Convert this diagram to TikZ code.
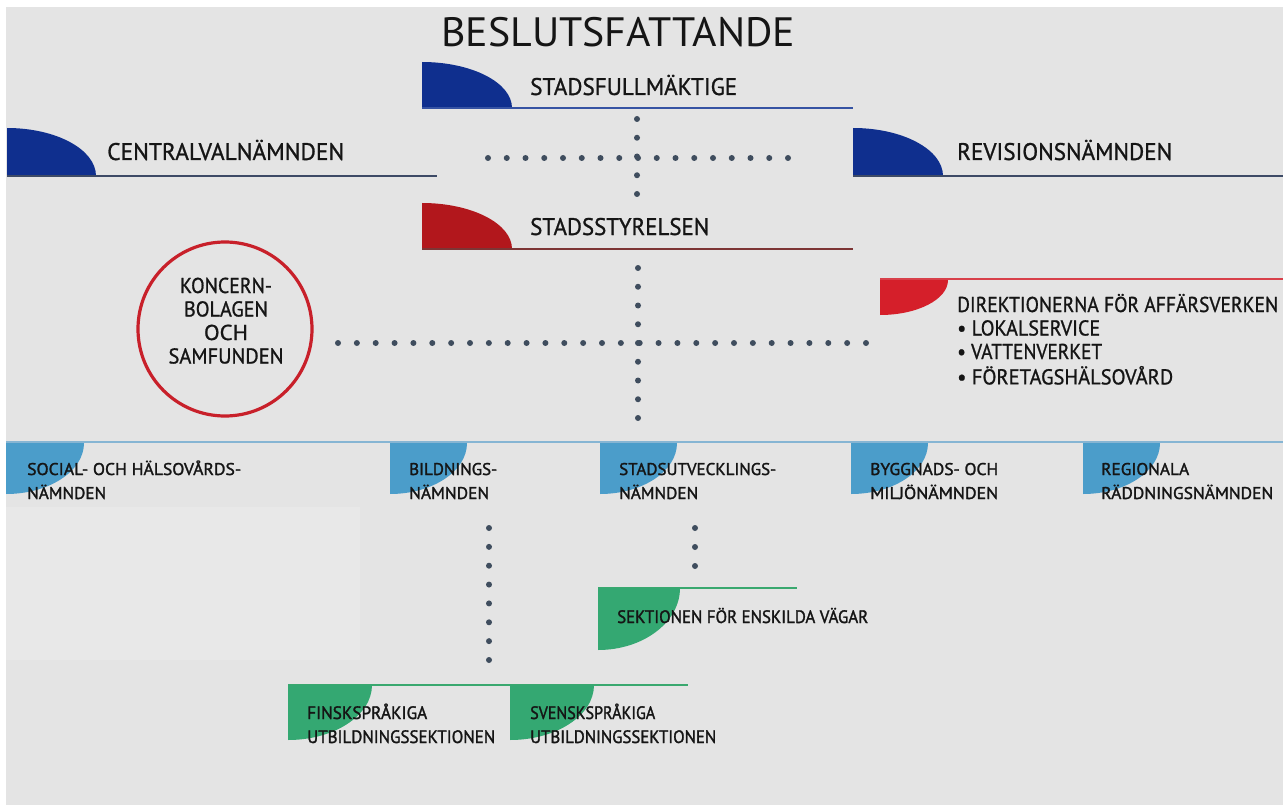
\documentclass[tikz,border=0pt]{standalone}
\usepackage{fontspec}
\setmainfont{PT Sans}
\newfontfamily\lblfont[FakeBold=1.0]{PT Sans}
\newfontfamily\rowfont[FakeBold=1.6]{PT Sans}
\usepackage{graphicx}
\definecolor{bgc}{HTML}{E4E4E4}
\definecolor{bgl}{HTML}{E8E8E8}
\definecolor{navy}{HTML}{0F2F8E}
\definecolor{navyln}{HTML}{3653A3}
\definecolor{slateln}{HTML}{3D4A66}
\definecolor{redA}{HTML}{B2171C}
\definecolor{redAln}{HTML}{7D3535}
\definecolor{redB}{HTML}{D51F2A}
\definecolor{redBln}{HTML}{D8404A}
\definecolor{circred}{HTML}{C8202A}
\definecolor{lblue}{HTML}{4B9DCA}
\definecolor{lblueln}{HTML}{86B5D3}
\definecolor{grn}{HTML}{34A872}
\definecolor{grnln}{HTML}{3AA86F}
\definecolor{dotc}{HTML}{3F4D5E}
\definecolor{txtc}{HTML}{151515}
\newcommand\fw[2]{\resizebox{#1pt}{\height}{#2}}
\newcommand\linesl[1]{\begin{tabular}[t]{@{}l@{}}#1\end{tabular}}
\newcommand\linesc[1]{\begin{tabular}[t]{@{}c@{}}#1\end{tabular}}
% hump above a base line: x0, base, rx, ry, colour
\newcommand\humpup[5]{\fill[#5] (#1,#2) -- (#1,#2-#4) .. controls (#1+0.5523*#3,#2-#4) and (#1+#3,#2-0.5523*#4) .. (#1+#3,#2) -- cycle;}
% shape hanging below a line: x0, line, rx, ry, colour
\newcommand\humpdown[5]{\fill[#5] (#1,#2) -- (#1+#3,#2) .. controls (#1+#3,#2+0.5523*#4) and (#1+0.5523*#3,#2+#4) .. (#1,#2+#4) -- cycle;}
\tikzset{
  txt/.style={inner sep=0pt, text=txtc, anchor=base west},
  toplbl/.style={txt, font=\lblfont\fontsize{24}{24}\selectfont},
  rowlbl/.style={txt, font=\rowfont\fontsize{17}{24}\selectfont},
  seclbl/.style={txt, font=\rowfont\fontsize{18}{24}\selectfont},
  dotrow/.style={draw=dotc, line width=6pt, line cap=round, dash pattern=on 0pt off #1},
  baseln/.style={line width=1.8pt}
}
\begin{document}
\begin{tikzpicture}[x=1pt,y=-1pt]
\useasboundingbox (0,0) rectangle (1287,805);
\fill[white] (0,0) rectangle (1287,805);
\fill[bgc] (6,7) rectangle (1283,805);
\fill[bgl] (6,507) rectangle (360,660);

% title
\node[txt, font=\fontsize{41}{41}\selectfont] (title) at (441,47) {\fw{354}{BESLUTSFATTANDE}};

% top level boxes
\humpup{422}{108}{90}{46}{navy}
\draw[baseln, navyln] (422,108) -- (853,108);
\node[toplbl] (sf) at (530,95) {\fw{207}{STADSFULLMÄKTIGE}};

\humpup{7}{176}{89}{48}{navy}
\draw[baseln, slateln] (7,176) -- (437,176);
\node[toplbl] (cv) at (107,160) {\fw{237}{CENTRALVALNÄMNDEN}};

\humpup{853}{176}{90}{48}{navy}
\draw[baseln, slateln] (853,176) -- (1283,176);
\node[toplbl] (rv) at (957,160) {\fw{215}{REVISIONSNÄMNDEN}};

\humpup{422}{249}{90}{46}{redA}
\draw[baseln, redAln] (422,249) -- (853,249);
\node[toplbl] (ss) at (530,235) {\fw{179}{STADSSTYRELSEN}};

% dotted cross 1
\coordinate (d1t) at (637,119);
\coordinate (d1b) at (637,195);
\coordinate (d1l) at (488,158);
\coordinate (d1r) at (788.5,158);
\draw[dotrow=18.75pt] (d1t) -- (d1b);
\draw[dotrow=18.75pt] (d1l) -- (d1r);

% koncern circle
\node[circle, draw=circred, line width=3.2pt, minimum size=174pt, inner sep=0pt] (kc) at (225,329) {};
\node[inner sep=0pt, text=txtc, anchor=base, font=\lblfont\fontsize{21.5}{23.5}\selectfont] (kt) at (226,293)
  {\linesc{\fw{92}{KONCERN-}\\\fw{84}{BOLAGEN}\\\fw{44}{OCH}\\\fw{115}{SAMFUNDEN}}};

% direktionerna
\humpdown{880}{280}{68}{35}{redB}
\draw[baseln, line width=1.6pt, redBln] (880,279) -- (1283,279);
\node[txt, font=\lblfont\fontsize{21.5}{23.5}\selectfont] (dk) at (957,312)
  {\linesl{\fw{321}{DIREKTIONERNA FÖR AFFÄRSVERKEN}\\\fw{143}{• LOKALSERVICE}\\\fw{145}{• VATTENVERKET}\\\fw{216}{• FÖRETAGSHÄLSOVÅRD}}};

% dotted cross 2
\coordinate (d2t) at (638,268);
\coordinate (d2b) at (638,418.5);
\coordinate (d2l) at (338,343);
\coordinate (d2r) at (866.5,343);
\draw[dotrow=18.75pt] (d2t) -- (d2b);
\draw[dotrow=18.857pt] (d2l) -- (d2r);

% committees row
\draw[line width=2pt, lblueln] (6,442) -- (1283,442);
\humpdown{6}{443}{78}{51}{lblue}
\humpdown{390}{443}{77}{51}{lblue}
\humpdown{600}{443}{77}{51}{lblue}
\humpdown{851}{443}{77}{51}{lblue}
\humpdown{1083}{443}{77}{51}{lblue}
\node[rowlbl] (sh) at (27,475)
  {\linesl{\fw{214}{SOCIAL- OCH HÄLSOVÅRDS-}\\\fw{79}{NÄMNDEN}}};
\node[rowlbl] (bn) at (409,475)
  {\linesl{\fw{88}{BILDNINGS-}\\\fw{80}{NÄMNDEN}}};
\node[rowlbl] (su) at (619,475)
  {\linesl{\fw{157}{STADSUTVECKLINGS-}\\\fw{79}{NÄMNDEN}}};
\node[rowlbl] (bm) at (870,475)
  {\linesl{\fw{128}{BYGGNADS- OCH}\\\fw{128}{MILJÖNÄMNDEN}}};
\node[rowlbl] (rr) at (1101,475)
  {\linesl{\fw{88}{REGIONALA}\\\fw{172}{RÄDDNINGSNÄMNDEN}}};

% dotted links below
\coordinate (d3t) at (489,528);
\coordinate (d3b) at (489,660.5);
\draw[dotrow=18.857pt] (d3t) -- (d3b);
\coordinate (d4t) at (695,528);
\coordinate (d4b) at (695,566.5);
\draw[dotrow=19pt] (d4t) -- (d4b);

% sections
\draw[baseln, grnln] (598,588) -- (797,588);
\humpdown{598}{588}{82}{62}{grn}
\node[seclbl] (sev) at (617,623) {\fw{251}{SEKTIONEN FÖR ENSKILDA VÄGAR}};

\draw[baseln, grnln] (288,685) -- (688,685);
\humpdown{288}{685}{84}{55}{grn}
\humpdown{510}{685}{84}{55}{grn}
\node[seclbl] (fu) at (307,719)
  {\linesl{\fw{120}{FINSKSPRÅKIGA}\\\fw{188}{UTBILDNINGSSEKTIONEN}}};
\node[seclbl] (su2) at (530,719)
  {\linesl{\fw{125}{SVENSKSPRÅKIGA}\\\fw{186}{UTBILDNINGSSEKTIONEN}}};
\end{tikzpicture}
\end{document}
